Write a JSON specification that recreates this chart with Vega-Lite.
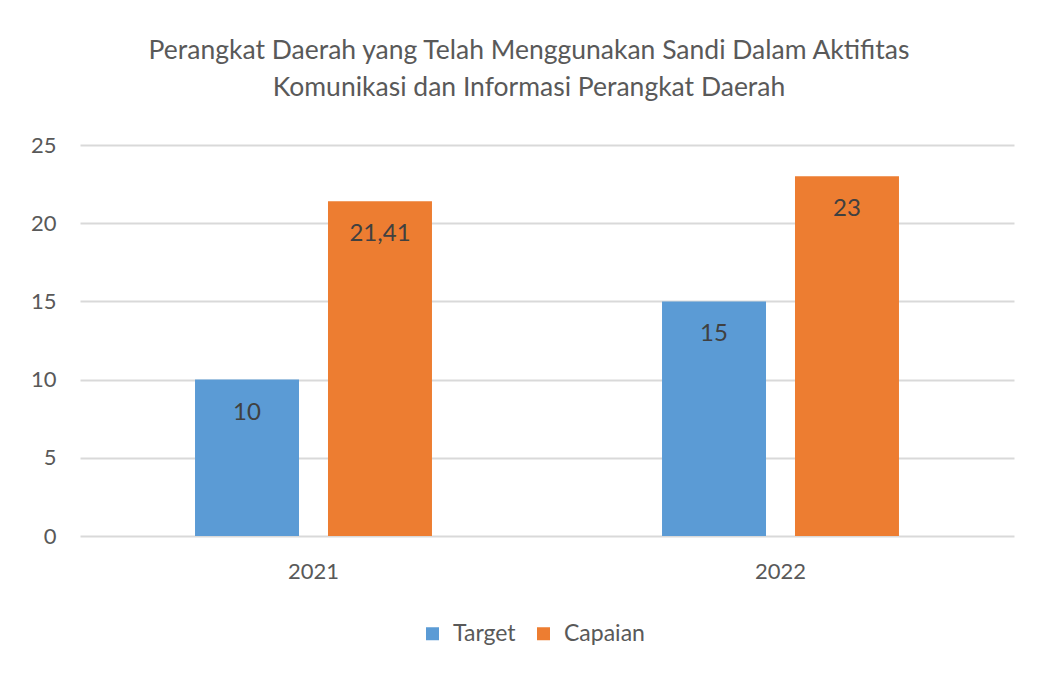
{
  "$schema": "https://vega.github.io/schema/vega-lite/v6.json",
  "autosize": "none",
  "width": 934,
  "height": 391,
  "padding": {"left": 80, "top": 145, "right": 24, "bottom": 138},
  "background": "white",
  "config": {
    "font": "Lato",
    "view": {"stroke": null},
    "locale": {"number": {"decimal": ",", "thousands": ".", "grouping": [3], "currency": ["", ""]}}
  },
  "title": {
    "text": ["Perangkat Daerah yang Telah Menggunakan Sandi Dalam Aktifitas", "Komunikasi dan Informasi Perangkat Daerah"],
    "font": "Lato",
    "fontSize": 26.5,
    "fontWeight": "normal",
    "color": "#595959",
    "lineHeight": 37,
    "anchor": "middle",
    "dx": -18,
    "offset": 33
  },
  "data": {
    "values": [
      {"tahun": "2021", "seri": "Target", "nilai": 10},
      {"tahun": "2021", "seri": "Capaian", "nilai": 21.41},
      {"tahun": "2022", "seri": "Target", "nilai": 15},
      {"tahun": "2022", "seri": "Capaian", "nilai": 23}
    ]
  },
  "encoding": {
    "x": {
      "field": "tahun", "type": "nominal",
      "scale": {"paddingInner": 0, "paddingOuter": 0},
      "axis": {"title": null, "labelAngle": 0, "domain": false, "ticks": false, "labelPadding": 25, "labelFontSize": 22, "labelColor": "#595959", "labelFont": "Lato"}
    },
    "xOffset": {
      "field": "seri", "type": "nominal", "sort": ["Target", "Capaian"],
      "scale": {"paddingInner": 0.218, "paddingOuter": 0.865}
    },
    "y": {
      "field": "nilai", "type": "quantitative",
      "scale": {"domain": [0, 25], "nice": false},
      "axis": {"title": null, "values": [0, 5, 10, 15, 20, 25], "domain": false, "ticks": false, "labelPadding": 24, "labelFontSize": 22, "labelColor": "#595959", "labelFont": "Lato", "gridColor": "#D9D9D9", "gridWidth": 2}
    }
  },
  "layer": [
    {
      "mark": {"type": "bar"},
      "encoding": {
        "color": {
          "field": "seri", "type": "nominal", "sort": ["Target", "Capaian"],
          "scale": {"domain": ["Target", "Capaian"], "range": ["#5B9BD5", "#ED7D31"]},
          "legend": {"title": null, "orient": "none", "direction": "horizontal", "legendX": 341, "legendY": 477, "symbolType": "square", "symbolSize": 169, "symbolStrokeWidth": 0, "labelFontSize": 23, "labelColor": "#595959", "labelFont": "Lato", "columnPadding": 16, "labelOffset": 9}
        }
      }
    },
    {
      "mark": {"type": "text", "baseline": "middle", "align": "center", "dy": 33, "fontSize": 24, "color": "#404040", "font": "Lato"},
      "encoding": {
        "text": {"field": "nilai", "type": "quantitative", "format": ".2~f"}
      }
    }
  ]
}
